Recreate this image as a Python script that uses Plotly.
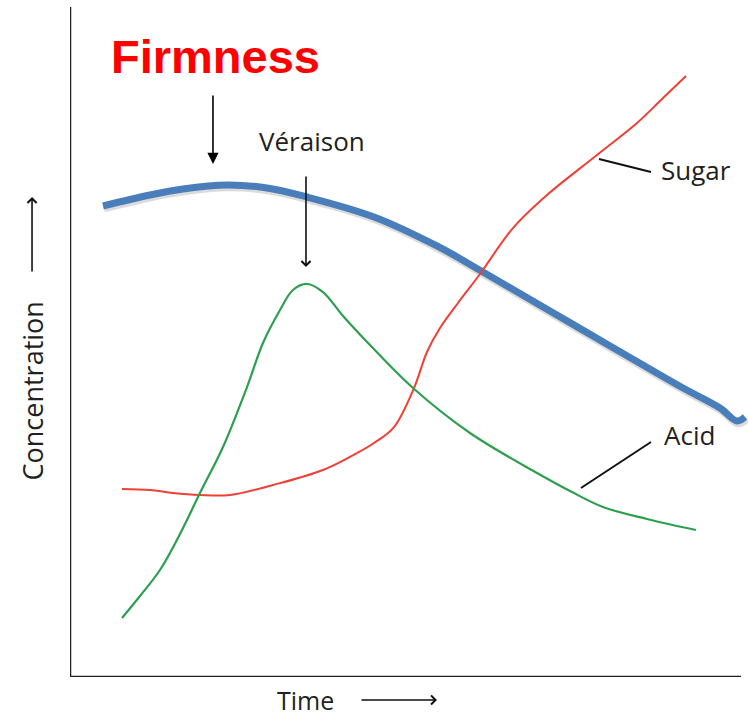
import numpy as np
import plotly.graph_objects as go

# ---- data (time units 0-100, concentration units 0-100) ----
time_firmness = [4.92, 11.92, 16.84, 23.40, 29.36, 35.32, 45.31, 54.69,
                 61.55, 71.53, 81.52, 91.36, 96.87, 99.40, 100.6]
conc_firmness = [70.30, 71.94, 72.84, 73.43, 72.99, 71.64, 68.66, 64.33,
                 60.45, 54.63, 48.81, 43.13, 40.15, 38.21, 38.81]

time_sugar = [7.75, 11.92, 15.35, 19.37, 23.85, 30.25, 37.70, 42.77, 45.31, 48.29,
              51.27, 53.20, 55.14, 57.82, 61.10, 66.02, 71.09, 78.54, 84.50, 88.23, 91.80]
conc_sugar = [28.06, 27.91, 27.46, 27.16, 27.16, 28.66, 30.90, 33.43, 34.93, 37.31,
              43.13, 48.51, 52.09, 55.82, 60.15, 67.01, 71.94, 77.91, 82.69, 86.27, 89.70]

time_acid = [7.75, 10.43, 13.41, 16.39, 19.37, 22.80, 26.38, 28.76, 31.30, 33.23, 35.32,
             37.70, 40.69, 44.71, 51.12, 59.61, 69.60, 74.52, 79.43, 85.99, 93.29]
conc_acid = [8.81, 12.09, 15.97, 21.34, 27.46, 34.33, 43.28, 49.85, 54.78, 57.76, 58.66,
             57.46, 53.88, 49.55, 43.13, 36.42, 30.45, 27.76, 25.37, 23.58, 21.94]

# label anchor positions (time, concentration)
firmness_label = (21.61, 92.54)
firmness_arrow = (21.31, 87.01, 76.57)   # x, tail y, tip y
veraison_label = (36.07, 80.0)
veraison_arrow = (35.17, 74.93, 61.19)
sugar_label = (87.78, 75.6)
sugar_leader = (78.84, 77.31, 86.59, 75.37)
acid_label = (88.23, 36.19)
acid_leader = (76.15, 28.21, 86.59, 35.07)

TEXT = "#231F20"
FONT = "Open Sans"

fig = go.Figure()

# soft shadow under the firmness line
fig.add_trace(go.Scatter(
    x=np.array(time_firmness) + 0.15, y=np.array(conc_firmness) - 0.35,
    mode="lines", line=dict(color="rgba(0,0,0,0.14)", width=8, shape="spline"),
    hoverinfo="skip"))
fig.add_trace(go.Scatter(x=time_firmness, y=conc_firmness, mode="lines", name="Firmness",
                         line=dict(color="#4A7EBB", width=7, shape="spline")))
fig.add_trace(go.Scatter(x=time_sugar, y=conc_sugar, mode="lines", name="Sugar",
                         line=dict(color="#EE4036", width=2, shape="spline")))
fig.add_trace(go.Scatter(x=time_acid, y=conc_acid, mode="lines", name="Acid",
                         line=dict(color="#2E9E4F", width=2.2, shape="spline")))

# axis lines
fig.add_shape(type="line", x0=0, x1=0, y0=0, y1=100, xref="x", yref="y",
              line=dict(color=TEXT, width=2.5))
fig.add_shape(type="line", x0=0, x1=100, y0=0, y1=0, xref="x", yref="y",
              line=dict(color=TEXT, width=2.5))
# leader lines
for (x0, y0, x1, y1) in (sugar_leader, acid_leader):
    fig.add_shape(type="line", x0=x0, y0=y0, x1=x1, y1=y1, xref="x", yref="y",
                  line=dict(color="#111111", width=2))

ann = []
ann.append(dict(x=firmness_label[0], y=firmness_label[1], text="<b>Firmness</b>",
                showarrow=False, font=dict(family="Liberation Sans, Arial", size=47, color="#FF0000"),
                xanchor="center", yanchor="middle"))
ann.append(dict(x=firmness_arrow[0], y=firmness_arrow[2], ax=firmness_arrow[0], ay=firmness_arrow[1],
                axref="x", ayref="y", text="", showarrow=True, arrowhead=2, arrowsize=1.4,
                arrowwidth=1.6, arrowcolor="#000000"))
ann.append(dict(x=veraison_label[0], y=veraison_label[1], text="Véraison", showarrow=False,
                font=dict(family=FONT, size=26, color=TEXT), xanchor="center", yanchor="middle"))
ann.append(dict(x=veraison_arrow[0], y=veraison_arrow[2], ax=veraison_arrow[0], ay=veraison_arrow[1],
                axref="x", ayref="y", text="", showarrow=True, arrowhead=4, arrowsize=1.1,
                arrowwidth=1.6, arrowcolor="#111111"))
ann.append(dict(x=sugar_label[0], y=sugar_label[1], text="Sugar", showarrow=False,
                font=dict(family=FONT, size=26, color=TEXT), xanchor="left", yanchor="middle"))
ann.append(dict(x=acid_label[0], y=acid_label[1], text="Acid", showarrow=False,
                font=dict(family=FONT, size=26, color=TEXT), xanchor="left", yanchor="middle"))
# axis titles with arrows (paper coordinates, outside the plot area)
ann.append(dict(x=0.348, y=-0.0336, xref="paper", yref="paper", text="Time", showarrow=False,
                font=dict(family=FONT, size=25, color=TEXT), xanchor="center", yanchor="middle"))
ann.append(dict(x=0.5413, y=-0.0343, xref="paper", yref="paper", ax=-77, ay=0, text="",
                showarrow=True, arrowhead=4, arrowsize=1.1, arrowwidth=1.6, arrowcolor="#111111"))
ann.append(dict(x=-0.0553, y=0.4269, xref="paper", yref="paper", text="Concentration",
                showarrow=False, textangle=-90,
                font=dict(family=FONT, size=27, color=TEXT), xanchor="center", yanchor="middle"))
ann.append(dict(x=-0.056, y=0.7164, xref="paper", yref="paper", ax=0, ay=76, text="",
                showarrow=True, arrowhead=4, arrowsize=1.1, arrowwidth=1.6, arrowcolor="#111111"))

fig.update_layout(
    width=748, height=716,
    margin=dict(l=70, r=0, t=7, b=39, autoexpand=False),
    paper_bgcolor="white", plot_bgcolor="white",
    showlegend=False,
    annotations=ann,
    xaxis=dict(range=[0, 678 / 6.71], showgrid=False, zeroline=False, showticklabels=False,
               ticks="", showline=False, fixedrange=True),
    yaxis=dict(range=[0, 100], showgrid=False, zeroline=False, showticklabels=False,
               ticks="", showline=False, fixedrange=True),
)

fig.write_html("out.html", config={"displayModeBar": False},
               post_script="document.body.style.margin='0';")
